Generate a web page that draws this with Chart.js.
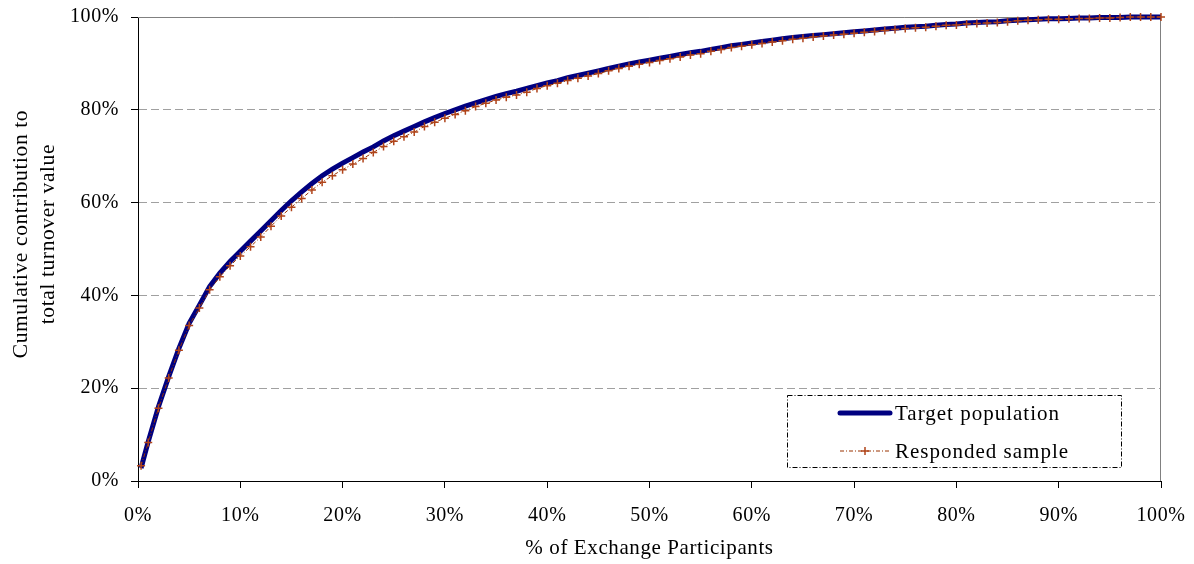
<!DOCTYPE html>
<html>
<head>
<meta charset="utf-8">
<script src="https://cdn.jsdelivr.net/npm/chart.js"></script>
<style>
  html, body { margin: 0; padding: 0; background: #fff; }
  #wrap { width: 1194px; height: 564px; position: relative; }
</style>
</head>
<body>
<div id="wrap"><canvas id="curveChart"></canvas></div>
<script>
// % of exchange participants (x)
const participantsPct = [0.3,
  1, 2, 3, 4, 5, 6, 7, 8, 9, 10,
  11, 12, 13, 14, 15, 16, 17, 18, 19, 20,
  21, 22, 23, 24, 25, 26, 27, 28, 29, 30,
  31, 32, 33, 34, 35, 36, 37, 38, 39, 40,
  41, 42, 43, 44, 45, 46, 47, 48, 49, 50,
  51, 52, 53, 54, 55, 56, 57, 58, 59, 60,
  61, 62, 63, 64, 65, 66, 67, 68, 69, 70,
  71, 72, 73, 74, 75, 76, 77, 78, 79, 80,
  81, 82, 83, 84, 85, 86, 87, 88, 89, 90,
  91, 92, 93, 94, 95, 96, 97, 98, 99, 100];

// cumulative contribution to turnover, target population
const targetPopulation = [2.8,
  8.5, 16.0, 22.5, 28.6, 34.0, 37.9, 41.9, 44.8, 47.3, 49.5,
  51.7, 53.9, 56.1, 58.3, 60.4, 62.3, 64.1, 65.8, 67.2, 68.5,
  69.7, 70.9, 72.0, 73.3, 74.4, 75.4, 76.4, 77.4, 78.3, 79.2,
  80.0, 80.8, 81.5, 82.2, 82.9, 83.5, 84.0, 84.6, 85.2, 85.8,
  86.3, 86.9, 87.4, 87.9, 88.4, 88.9, 89.4, 89.9, 90.3, 90.7,
  91.1, 91.5, 91.9, 92.3, 92.6, 93.0, 93.4, 93.8, 94.1, 94.4,
  94.7, 95.0, 95.3, 95.6, 95.8, 96.0, 96.2, 96.4, 96.6, 96.8,
  97.0, 97.2, 97.4, 97.6, 97.8, 97.9, 98.0, 98.2, 98.4, 98.5,
  98.7, 98.8, 98.9, 99.0, 99.2, 99.3, 99.4, 99.5, 99.6, 99.6,
  99.7, 99.8, 99.8, 99.9, 99.9, 99.9, 100, 100, 100, 100];

// cumulative contribution to turnover, responded sample
const respondedSample = [3.3,
  8.3, 15.7, 22.2, 28.2, 33.5, 37.3, 41.2, 44.0, 46.4, 48.5,
  50.5, 52.6, 54.9, 57.1, 59.0, 60.9, 62.7, 64.4, 65.8, 67.1,
  68.3, 69.5, 70.8, 72.1, 73.2, 74.2, 75.2, 76.4, 77.3, 78.2,
  79.0, 79.8, 80.7, 81.4, 82.1, 82.7, 83.2, 83.8, 84.6, 85.2,
  85.7, 86.3, 86.8, 87.3, 87.8, 88.4, 88.9, 89.4, 89.8, 90.2,
  90.6, 91.0, 91.4, 91.8, 92.1, 92.6, 93.0, 93.4, 93.7, 94.0,
  94.3, 94.6, 94.9, 95.2, 95.4, 95.7, 95.9, 96.1, 96.3, 96.5,
  96.7, 96.9, 97.1, 97.3, 97.5, 97.7, 97.8, 98.0, 98.2, 98.3,
  98.5, 98.6, 98.7, 98.8, 99.0, 99.2, 99.3, 99.4, 99.5, 99.5,
  99.6, 99.7, 99.7, 99.8, 99.8, 99.9, 100, 100, 100, 100];

const seriesNames = ['Target population', 'Responded sample'];
const xTicks = [0, 10, 20, 30, 40, 50, 60, 70, 80, 90, 100];
const yTicks = [0, 20, 40, 60, 80, 100];

const FONT = 'Liberation Serif, Times New Roman, serif';
const SPACING = '0.6px';

function toPoints(ys) {
  return participantsPct.map((x, i) => ({ x: x, y: ys[i] }));
}

// the original text is a bit wider than plain Times
const wideText = {
  id: 'wideText',
  beforeUpdate(chart) { chart.ctx.letterSpacing = SPACING; },
  beforeDraw(chart) { chart.ctx.letterSpacing = SPACING; }
};

// gray border on top and right of the plot area
const plotBorder = {
  id: 'plotBorder',
  beforeDatasetsDraw(chart) {
    const { ctx, chartArea: a } = chart;
    ctx.save();
    ctx.strokeStyle = '#808080';
    ctx.lineWidth = 1;
    ctx.beginPath();
    ctx.moveTo(a.left, a.top + 0.5);
    ctx.lineTo(a.right - 0.5, a.top + 0.5);
    ctx.lineTo(a.right - 0.5, a.bottom);
    ctx.stroke();
    ctx.restore();
  }
};

// legend box inside the plot, bottom right
const boxLegend = {
  id: 'boxLegend',
  afterDraw(chart) {
    const ctx = chart.ctx;
    const bx = 787, by = 395, bw = 334, bh = 72;
    ctx.save();
    ctx.fillStyle = '#fff';
    ctx.fillRect(bx, by, bw, bh);
    ctx.strokeStyle = '#000';
    ctx.lineWidth = 1;
    ctx.setLineDash([5, 2, 1, 2]);
    ctx.strokeRect(bx + 0.5, by + 0.5, bw, bh);

    const ds = chart.data.datasets;
    const rows = [413, 451];
    ds.forEach((d, i) => {
      const y = rows[i];
      ctx.setLineDash(d.borderDash || []);
      ctx.strokeStyle = d.borderColor;
      ctx.lineWidth = d.borderWidth;
      ctx.lineCap = i === 0 ? 'round' : 'butt';
      ctx.beginPath();
      ctx.moveTo(840, y);
      ctx.lineTo(890, y);
      ctx.stroke();
      if (d.pointRadius) {
        ctx.setLineDash([]);
        ctx.strokeStyle = d.pointBorderColor;
        ctx.lineWidth = d.pointBorderWidth;
        ctx.beginPath();
        ctx.moveTo(865 - d.pointRadius, y);
        ctx.lineTo(865 + d.pointRadius, y);
        ctx.moveTo(865, y - d.pointRadius);
        ctx.lineTo(865, y + d.pointRadius);
        ctx.stroke();
      }
      ctx.fillStyle = '#000';
      ctx.letterSpacing = '1px';
      ctx.font = '21px ' + FONT;
      ctx.textBaseline = 'middle';
      ctx.fillText(d.label, 895, y + 1);
    });
    ctx.restore();
  }
};

const ctx = document.querySelector('#curveChart').getContext('2d');

new Chart(ctx, {
  type: 'line',
  data: {
    datasets: [
      {
        label: seriesNames[0],
        data: toPoints(targetPopulation),
        borderColor: '#000080',
        borderWidth: 5,
        pointRadius: 0,
        tension: 0,
        clip: false,
        order: 2
      },
      {
        label: seriesNames[1],
        data: toPoints(respondedSample),
        borderColor: '#993300',
        borderWidth: 1,
        borderDash: [4, 2, 1, 2],
        pointStyle: 'cross',
        pointRadius: 4,
        pointBorderWidth: 1.5,
        pointBorderColor: '#B0441A',
        pointBackgroundColor: '#B0441A',
        tension: 0,
        clip: false,
        order: 1
      }
    ]
  },
  options: {
    responsive: true,
    maintainAspectRatio: false,
    animation: false,
    layout: { padding: 0 },
    plugins: {
      legend: { display: false },
      tooltip: { enabled: false }
    },
    scales: {
      x: {
        type: 'linear',
        min: 0,
        max: 100,
        afterBuildTicks(scale) { scale.ticks = xTicks.map(v => ({ value: v })); },
        afterFit(scale) {
          scale.height = 83;
          scale.paddingLeft = 0;
          scale.paddingRight = 33;
        },
        grid: {
          drawOnChartArea: false,
          color: '#000',
          tickLength: 7
        },
        border: { color: '#000', width: 1 },
        ticks: {
          color: '#000',
          padding: 16,
          maxRotation: 0,
          font: { family: FONT, size: 20 },
          callback: v => v + '%'
        },
        title: {
          display: true,
          text: '% of Exchange Participants',
          color: '#000',
          font: { family: FONT, size: 21 },
          padding: { top: 4, bottom: 3 }
        }
      },
      y: {
        min: 0,
        max: 100,
        afterBuildTicks(scale) { scale.ticks = yTicks.map(v => ({ value: v })); },
        afterFit(scale) {
          scale.width = 138;
          scale.paddingTop = 17;
          scale.paddingBottom = 0;
        },
        grid: {
          color: '#a0a0a0',
          tickColor: '#000',
          tickBorderDash: [20, 0],
          tickLength: 7
        },
        border: { color: '#000', width: 1, dash: [8, 4] },
        ticks: {
          color: '#000',
          padding: 12,
          font: { family: FONT, size: 20 },
          callback: v => v + '%'
        },
        title: {
          display: true,
          text: ['     Cumulative contribution to', '     total turnover value'],
          color: '#000',
          font: { family: FONT, size: 21.5, lineHeight: 1.26 },
          padding: { top: 8, bottom: 0 }
        }
      }
    }
  },
  plugins: [wideText, plotBorder, boxLegend]
});
</script>
</body>
</html>
